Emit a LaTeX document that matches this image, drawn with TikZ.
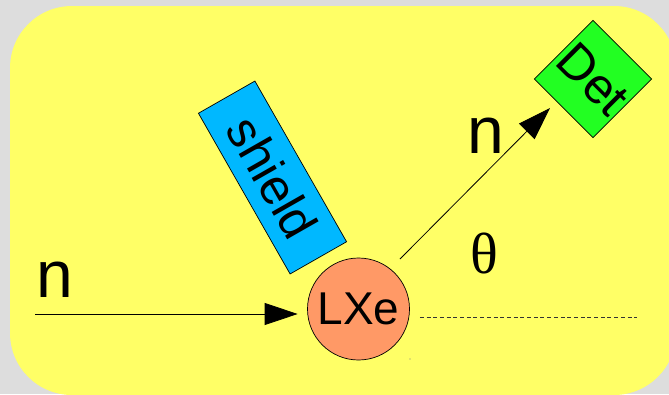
\documentclass[tikz,border=0pt]{standalone}
\usepackage{fontspec}
\setmainfont{Liberation Sans}
\newfontfamily\thetafont{Liberation Serif}
\usetikzlibrary{arrows.meta}
\definecolor{bggray}{HTML}{DDDDDD}
\definecolor{paneyellow}{HTML}{FFFF66}
\definecolor{shieldblue}{HTML}{00B8FF}
\definecolor{detgreen}{HTML}{22FF22}
\definecolor{lxeorange}{HTML}{FF9966}
\tikzset{
  partbox/.style={draw=black, line width=0.7pt, inner sep=0pt, font=\fontsize{46}{46}\selectfont},
  bigarrow/.style={draw=black, line width=0.8pt, -{Triangle[length=33pt,width=22pt]}},
  biglabel/.style={inner sep=0pt, font=\fontsize{66}{66}\selectfont},
}
\begin{document}
\begin{tikzpicture}[x=1pt,y=-1pt]
\useasboundingbox (0,0) rectangle (669,394);
\clip (0,0) rectangle (669,394);
\fill[bggray] (0,0) rectangle (669,394);
\fill[paneyellow, rounded corners=62pt] (10,6) rectangle (676,395);

% nodes
\node[partbox, circle, fill=lxeorange, minimum size=102pt] (lxe) at (358.5,309) {LXe};
\node[partbox, rectangle, fill=shieldblue, minimum width=185pt, minimum height=65pt, rotate=-60.3, font=\fontsize{50}{50}\selectfont] (shield) at (272.5,177.5) {shield};
\node[partbox, rectangle, fill=detgreen, minimum width=83pt, minimum height=83pt, rotate=-45, font=\fontsize{50}{50}\selectfont] (det) at (593,79) {Det};

% labels
\node[biglabel] (nin) at (55.3,280) {n};
\node[biglabel] (nout) at (485.8,136) {n};
\node[inner sep=0pt, font=\thetafont\fontsize{58}{58}\selectfont] (theta) at (484.5,253) {θ};

% connectors
\coordinate (instart) at (35,314);
\coordinate (outstart) at (400,259);
\coordinate (outtip) at (550,108);
\coordinate (dashend) at (637,317);
\draw[bigarrow, shorten >=9.5pt] (instart) -- (instart -| lxe.west);
\draw[bigarrow] (outstart) -- (outtip);
\draw[black!80, line width=0.9pt, dash pattern=on 4pt off 2.7pt] (lxe.east |- dashend) ++(10,0) -- (dashend);
\fill[black!50] (410,359) circle (0.7pt);
\end{tikzpicture}
\end{document}
